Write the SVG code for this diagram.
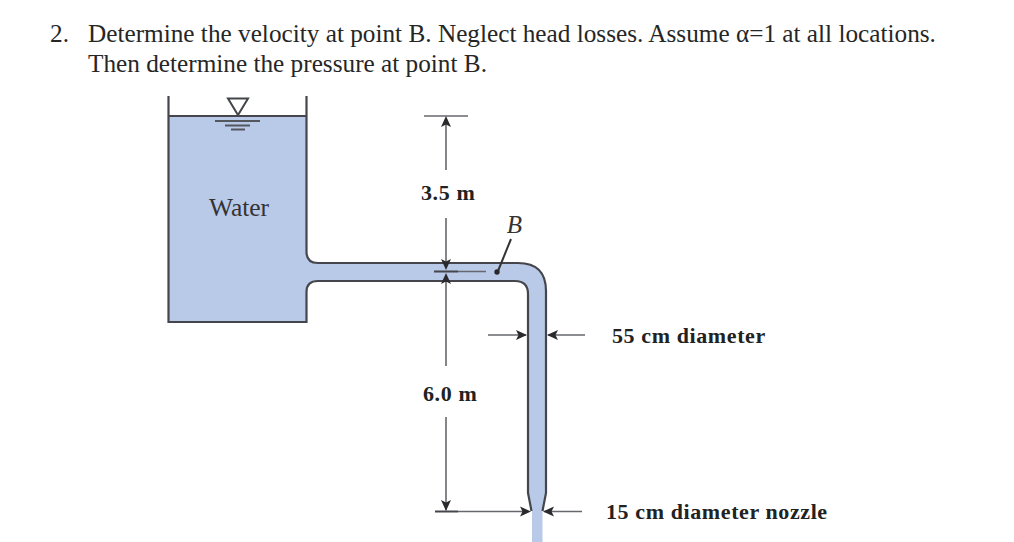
<svg xmlns="http://www.w3.org/2000/svg" width="1014" height="542" viewBox="0 0 1014 542">
<style>
.q{font-family:"Liberation Serif",serif;font-size:25.25px;fill:#262626}
.d{font-family:"Liberation Serif",serif;font-size:22px;font-weight:bold;fill:#222;letter-spacing:.6px}
.o{fill:none;stroke:#44464c;stroke-width:2.2}
.l{fill:none;stroke:#66686c;stroke-width:1.6}
.a{fill:#2a2a2e}
</style>
<defs>
<path id="ah" d="M0 0L-11-5L-8.500 0L-11 5Z"/>
</defs>
<rect width="1014" height="542" fill="#fff"/>
<g id="question">
<text class="q" x="50" y="42">2.</text>
<text class="q" x="88" y="42">Determine the velocity at point B. Neglect head losses. Assume α=1 at all locations.</text>
<text class="q" x="88" y="72">Then determine the pressure at point B.</text>
</g>
<g id="tank">
<path d="M168.500 116H306.500V252Q306.500 263 318 263H518Q546 263 546 291V493L542.500 511H531.500L528 493V294Q528 281 515 281H318Q306.500 281 306.500 292V322H168.500Z" fill="#b9c9e8"/>
<rect x="532" y="511" width="10.500" height="31" fill="#b9c9e8"/>
<path class="o" d="M168.500 96V322H306.500V292Q306.500 281 318 281H515Q528 281 528 294V493L531.500 511"/>
<path class="o" d="M306.500 96V252Q306.500 263 318 263H518Q546 263 546 291V493L542.500 511"/>
<path class="o" stroke-width="1.500" d="M168.500 116H306.500"/>
<path fill="#fff" stroke="#44464c" stroke-width="2" d="M228 98.500H248L238 115Z"/>
<path fill="none" stroke="#55575f" stroke-width="2" d="M215 121H260M225 125.500H250M231 129.500H245"/>
</g>
<g id="water-label"><text x="239" y="215.500" text-anchor="middle" style="font-family:'Liberation Serif',serif;font-size:25.500px;fill:#333">Water</text></g>
<g id="connectors">
<path class="l" d="M424 116H468M446 118V170M446 218V262M446 282V366M446 417V510M458 271.500H486M458 511.500H528M488 335H526M548 335H585M544 511.500H582"/>
<path fill="none" stroke="#44464c" stroke-width="2" d="M434 271.500H458M435 511.500H458"/>
<use href="#ah" class="a" transform="translate(446 116) rotate(-90)"/>
<use href="#ah" class="a" transform="translate(446 270) rotate(90)"/>
<use href="#ah" class="a" transform="translate(446 273) rotate(-90)"/>
<use href="#ah" class="a" transform="translate(446 511) rotate(90)"/>
<use href="#ah" class="a" transform="translate(527 335)"/>
<use href="#ah" class="a" transform="translate(547 335) rotate(180)"/>
<use href="#ah" class="a" transform="translate(531 511.500)"/>
<use href="#ah" class="a" transform="translate(543 511.500) rotate(180)"/>
<path fill="none" stroke="#333" stroke-width="2" d="M511 239L498 271"/>
<circle class="a" cx="497" cy="272" r="2.700"/>
</g>
<g id="labels">
<text class="d" x="421" y="200">3.5 m</text>
<text class="d" x="423" y="401">6.0 m</text>
<text x="514.500" y="233" text-anchor="middle" style="font-family:'Liberation Serif',serif;font-size:25px;font-style:italic;fill:#333">B</text>
<text class="d" x="612" y="342.500">55 cm diameter</text>
<text class="d" x="606" y="518.500">15 cm diameter nozzle</text>
</g>
</svg>
